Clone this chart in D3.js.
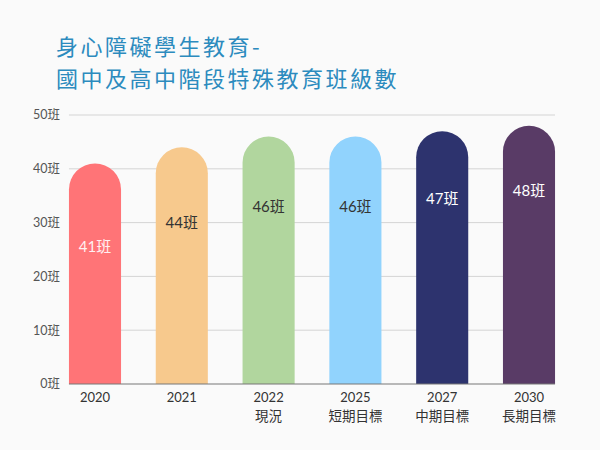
<!DOCTYPE html>
<html><head><meta charset="utf-8">
<script src="https://cdn.jsdelivr.net/npm/d3@7"></script>
<style>
html,body{margin:0;padding:0;background:#fafafa;}
svg{display:block;}
</style></head>
<body>
<svg id="chart" width="600" height="450"></svg>
<script>
const years = ["2020","2021","2022","2025","2027","2030"];
const subLabels = ["","","現況","短期目標","中期目標","長期目標"];
const values = [41,44,46,46,47,48];
const colors = ["#FF7477","#F7C98D","#B1D69E","#91D3FD","#2D336E","#593B66"];
const labelColors = ["#FFF0F2","#333333","#333333","#333333","#FFFFFF","#FFFFFF"];
const yTicks = [0,10,20,30,40,50];
const titleLines = ["身心障礙學生教育-","國中及高中階段特殊教育班級數"];

const svg = d3.select("#chart");
const font = "'Noto Sans CJK TC','Noto Sans',sans-serif";
const numFont = "Lato,'Noto Sans CJK TC',sans-serif";

svg.append("rect").attr("width",600).attr("height",450).attr("fill","#fafafa");

const x = d3.scaleBand().domain(years).range([51.6,572.4]).paddingInner(0.4).paddingOuter(0.2);
const y = d3.scaleLinear().domain([0,50]).range([384,115]);
const x0 = x(years[0]), x1 = x(years[years.length-1]) + x.bandwidth();

// title
svg.append("g").selectAll("text").data(titleLines).join("text")
  .attr("x",56).attr("y",(d,i)=>55+i*32)
  .attr("font-family",font).attr("font-size",22).attr("letter-spacing",2.5).attr("fill","#2C8BBE")
  .text(d=>d);

// gridlines
svg.append("g").selectAll("line").data(yTicks.slice(1)).join("line")
  .attr("x1",x0).attr("x2",x1).attr("y1",d=>y(d)).attr("y2",d=>y(d))
  .attr("stroke","#d4d4d4").attr("stroke-width",1);

// y labels
svg.append("g").selectAll("text").data(yTicks).join("text")
  .attr("x",60).attr("y",d=>y(d)).attr("dy","0.35em").attr("text-anchor","end")
  .attr("font-family",numFont).attr("font-size",12.5).attr("fill","#555")
  .text(d=>d+"班");

// bars with rounded top
const r = x.bandwidth()/2;
svg.append("g").selectAll("path").data(values).join("path")
  .attr("fill",(d,i)=>colors[i])
  .attr("d",(d,i)=>{
    const l = x(years[i]), w = x.bandwidth(), top = y(d), b = y(0);
    return `M${l},${b} L${l},${top+r} A${r},${r} 0 0 1 ${l+w},${top+r} L${l+w},${b} Z`;
  });

// baseline
svg.append("line").attr("x1",x0).attr("x2",x1).attr("y1",y(0)).attr("y2",y(0))
  .attr("stroke","#777").attr("stroke-width",1);

// value labels
svg.append("g").selectAll("text").data(values).join("text")
  .attr("x",(d,i)=>x(years[i])+x.bandwidth()/2)
  .attr("y",d=>y(1.5*d-36)).attr("dy","0.35em").attr("text-anchor","middle")
  .attr("font-family",numFont).attr("font-size",15).attr("fill",(d,i)=>labelColors[i])
  .text(d=>d+"班");

// x labels
const xl = svg.append("g").selectAll("g").data(years).join("g")
  .attr("transform",d=>`translate(${x(d)+x.bandwidth()/2},0)`);
xl.append("text").attr("y",402).attr("text-anchor","middle")
  .attr("font-family",numFont).attr("font-size",13).attr("fill","#333").text(d=>d);
xl.append("text").attr("y",421).attr("text-anchor","middle")
  .attr("font-family",font).attr("font-size",13.5).attr("fill","#333").text((d,i)=>subLabels[i]);
</script>
</body></html>
